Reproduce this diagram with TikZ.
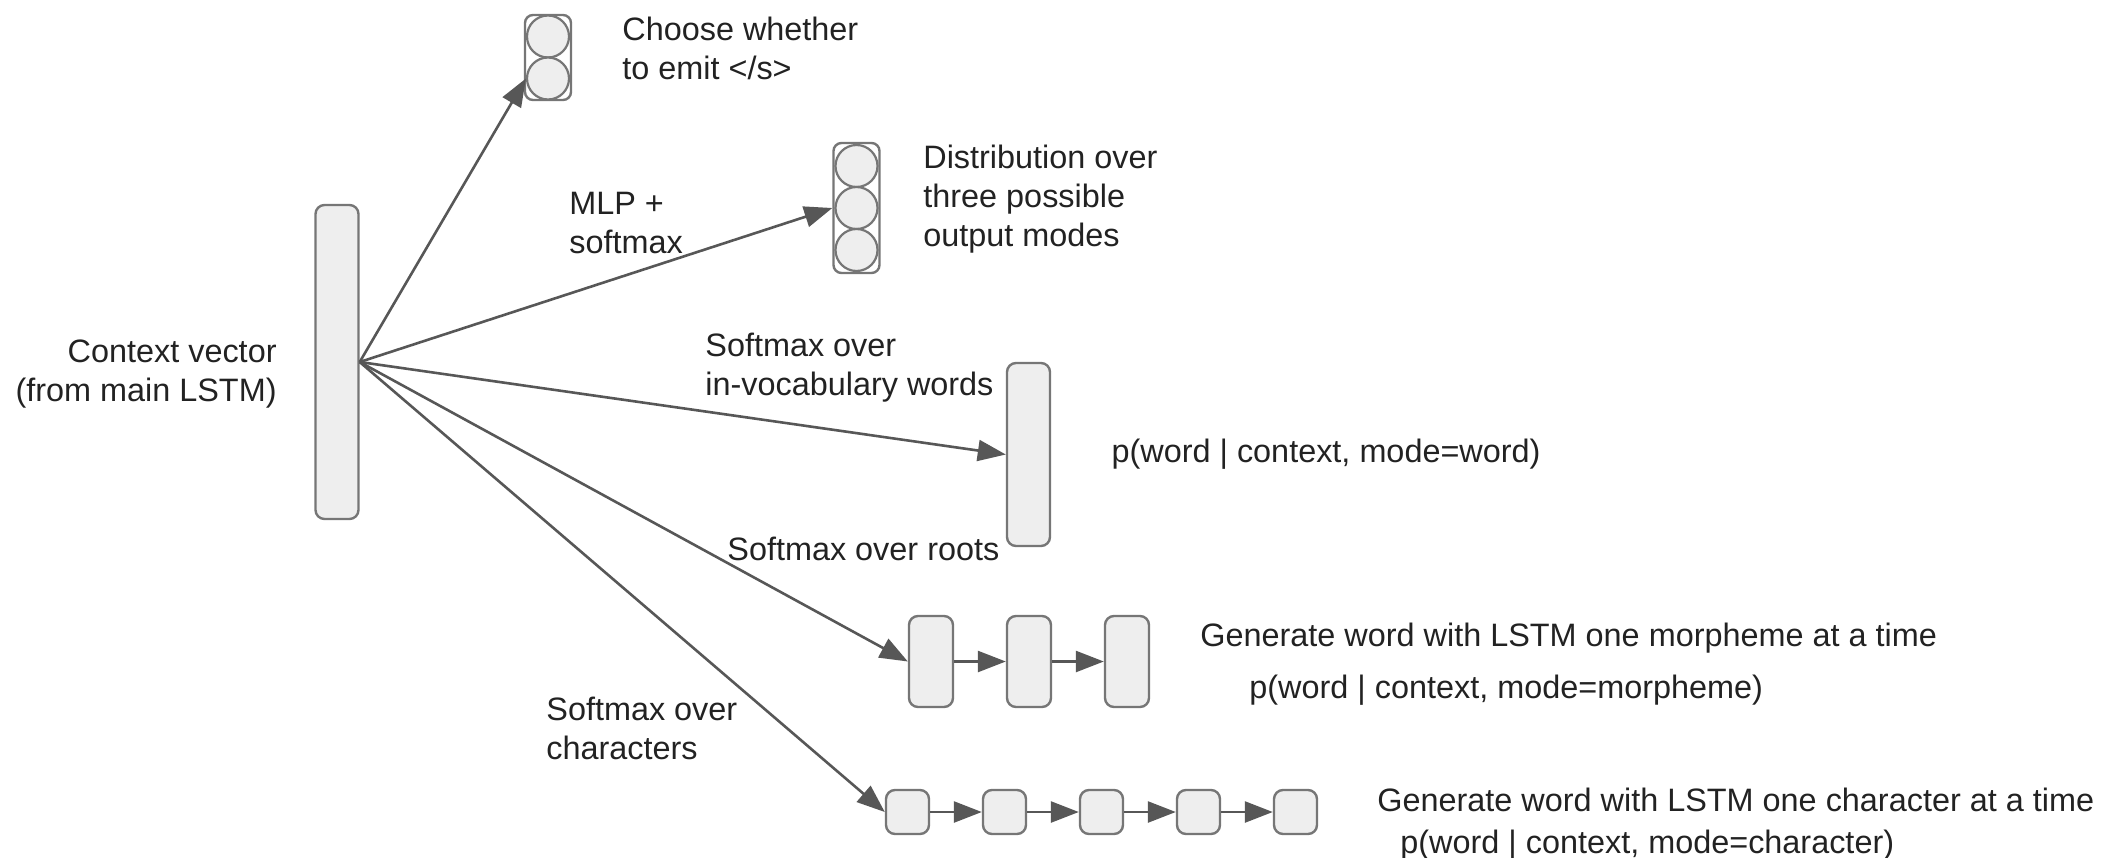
\documentclass[tikz,border=0pt]{standalone}
\usepackage{fontspec}
\setmainfont{Liberation Sans}
\usepackage{tikz}
\usetikzlibrary{arrows.meta,positioning}
\definecolor{cellfill}{HTML}{EEEEEE}
\definecolor{celldraw}{HTML}{767676}
\definecolor{linkgray}{HTML}{575757}
\definecolor{txtgray}{HTML}{222222}

\begin{document}
\begin{tikzpicture}[x=0.5pt, y=-0.5pt,
		node distance=25.8pt,
		every node/.style={font=\fontsize{16.2}{19.5}\selectfont, text=txtgray},
		lbl/.style={inner sep=0pt, align=left, anchor=north west},
		cell/.style={draw=celldraw, fill=cellfill, line width=1.2pt, rounded corners=4.5pt, inner sep=0pt},
		vec/.style={cell, minimum width=21.5pt},
		stack/.style={draw=celldraw, fill=white, line width=1.2pt, rounded corners=4pt, inner sep=0pt, minimum width=23pt},
		unit/.style={circle, draw=celldraw, fill=cellfill, line width=1.1pt, minimum size=21pt, inner sep=0pt},
		arr/.style={draw=linkgray, line width=1.3pt, -{Triangle[length=14pt,width=10.5pt]}}
		]
		\useasboundingbox (0,0) rectangle (2104,857);
		\node[vec, minimum height=157pt] (ctxvec) at (337,362) {};
		\node[lbl, anchor=north east, align=right] (ctxlbl) at (277,339) {Context vector\\(from main LSTM)};
		\node[stack, minimum height=42.5pt] (emit) at (548,57.5) {};
		\node[unit] (emit1) at (548,36.5) {};
		\node[unit] (emit2) at (548,78.5) {};
		\node[stack, minimum height=65pt] (modes) at (856.5,208) {};
		\foreach \i/\y in {1/166, 2/208, 3/250}
		\node[unit] (mode\i) at (856.5,\y) {};
		\node[vec, minimum height=91.5pt] (wordvec) at (1028.5,454.5) {};
		\node[cell, minimum width=22pt, minimum height=45.5pt] (m1) at (931,661.5) {};
		\node[cell, minimum width=22pt, minimum height=45.5pt, right=of m1] (m2) {};
		\node[cell, minimum width=22pt, minimum height=45.5pt, right=of m2] (m3) {};
		\node[cell, minimum width=21.5pt, minimum height=22pt] (c1) at (907.5,812) {};
		\node[cell, minimum width=21.5pt, minimum height=22pt, right=of c1] (c2) {};
		\node[cell, minimum width=21.5pt, minimum height=22pt, right=of c2] (c3) {};
		\node[cell, minimum width=21.5pt, minimum height=22pt, right=of c3] (c4) {};
		\node[cell, minimum width=21.5pt, minimum height=22pt, right=of c4] (c5) {};
		\node[lbl] (emitlbl) at (622,17) {Choose whether\\to emit </s>};
		\node[lbl] (mlplbl) at (569,192) {MLP +\\softmax};
		\node[lbl] (modeslbl) at (923,145) {Distribution over\\three possible\\output modes};
		\node[lbl] (vocablbl) at (705,333) {Softmax over\\in-vocabulary words};
		\node[lbl, right=30pt of wordvec] (wordp) {p(word | context, mode=word)};
		\node[lbl] (rootlbl) at (727,537) {Softmax over roots};
		\node[lbl] (morphgen) at (1200,623) {Generate word with LSTM one morpheme at a time};
		\node[lbl] (morphp) at (1249,675) {p(word | context, mode=morpheme)};
		\node[lbl] (charlbl) at (546,697) {Softmax over\\characters};
		\node[lbl] (chargen) at (1377,788) {Generate word with LSTM one character at a time};
		\node[lbl] (charp) at (1400,830) {p(word | context, mode=character)};
		\foreach \t in {emit2, modes, wordvec, m1, c1}
		\draw[arr] (ctxvec.east) -- (\t.west);
		\foreach \a/\b in {m1/m2, m2/m3, c1/c2, c2/c3, c3/c4, c4/c5}
		\draw[arr] (\a) -- (\b);
	\end{tikzpicture}
\end{document}
